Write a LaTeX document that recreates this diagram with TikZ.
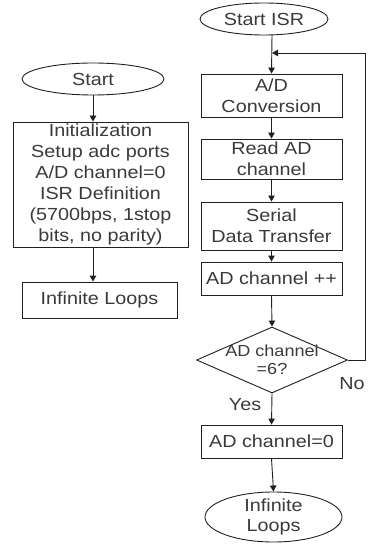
\documentclass[tikz,border=0pt]{standalone}
\usepackage{fontspec}
\setmainfont{Liberation Sans}[FakeStretch=1.13]
\usetikzlibrary{shapes.geometric,arrows.meta}
\definecolor{txt}{HTML}{3A3A3A}
\definecolor{ln}{HTML}{202020}
\begin{document}
\begin{tikzpicture}[x=1pt,y=-1pt,
  every node/.style={font=\fontsize{17.5}{21}\selectfont, text=txt, inner sep=0pt},
  box/.style={draw=ln, line width=0.9pt, rectangle, align=center},
  oval/.style={draw=ln, line width=0.9pt, ellipse},
  dia/.style={draw=ln, line width=0.9pt, diamond},
  arr/.style={draw=ln, line width=0.9pt, -{Triangle[length=6pt,width=6.5pt]}},
  plain/.style={draw=ln, line width=0.9pt}]
\useasboundingbox (0,0) rectangle (369,545);
% left column
\node[oval, minimum width=142pt, minimum height=32pt] (start) at (93,79) {Start};
\node[box, minimum width=175pt, minimum height=125pt] (init) at (100.5,184.5)
  {Initialization\\Setup adc ports\\A/D channel=0\\ISR Definition\\(5700bps, 1stop\\bits, no parity)};
\node[box, minimum width=155pt, minimum height=36pt] (loopL) at (99.5,300) {Infinite Loops};
\draw[arr] (start.south) -- (start.south |- init.north);
\draw[arr] (start.south |- init.south) -- (start.south |- loopL.north);
% right column
\node[oval, minimum width=128pt, minimum height=32pt] (isr) at (264,19) {Start ISR};
\node[box, minimum width=141pt, minimum height=43pt] (ad) at (271.5,95.5) {A/D\\Conversion};
\node[box, minimum width=141pt, minimum height=40pt] (read) at (271.5,159) {Read AD\\channel};
\node[box, minimum width=141pt, minimum height=48pt] (serial) at (271.5,226) {Serial\\Data Transfer};
\node[box, minimum width=141pt, minimum height=33pt] (inc) at (271.5,278.5) {AD channel ++};
\node[dia, minimum width=151pt, minimum height=66pt,
  label={[align=center, font=\fontsize{16}{18}\selectfont, text=txt]center:AD channel\\=6?}] (dec) at (272,360) {};
\node[box, minimum width=141pt, minimum height=33pt] (zero) at (271.5,441.5) {AD channel=0};
\node[oval, minimum width=137pt, minimum height=50pt,
  label={[align=center, font=\fontsize{17.5}{20}\selectfont, text=txt]center:Infinite\\Loops}] (loopR) at (273.5,517) {};
\coordinate (top) at (272,35);
\coordinate (join) at (272,53);
\coordinate (fbx) at (365,0);
\draw[arr] (top) -- (ad.north);
\draw[arr] (ad.south) -- (read.north);
\draw[arr] (read.south) -- (serial.north);
\draw[arr] (serial.south) -- (inc.north);
\draw[arr] (inc.south) -- (dec.north);
\draw[arr] (dec.south) -- (zero.north);
\draw[arr] (zero.south) -- (loopR.north);
\draw[arr] (dec.east) -- (fbx |- dec.east) -- (fbx |- join) -- (join);
\node[anchor=center] (yes) at (245,405) {Yes};
\node[anchor=center] (no) at (352,384) {No};
\end{tikzpicture}
\end{document}
